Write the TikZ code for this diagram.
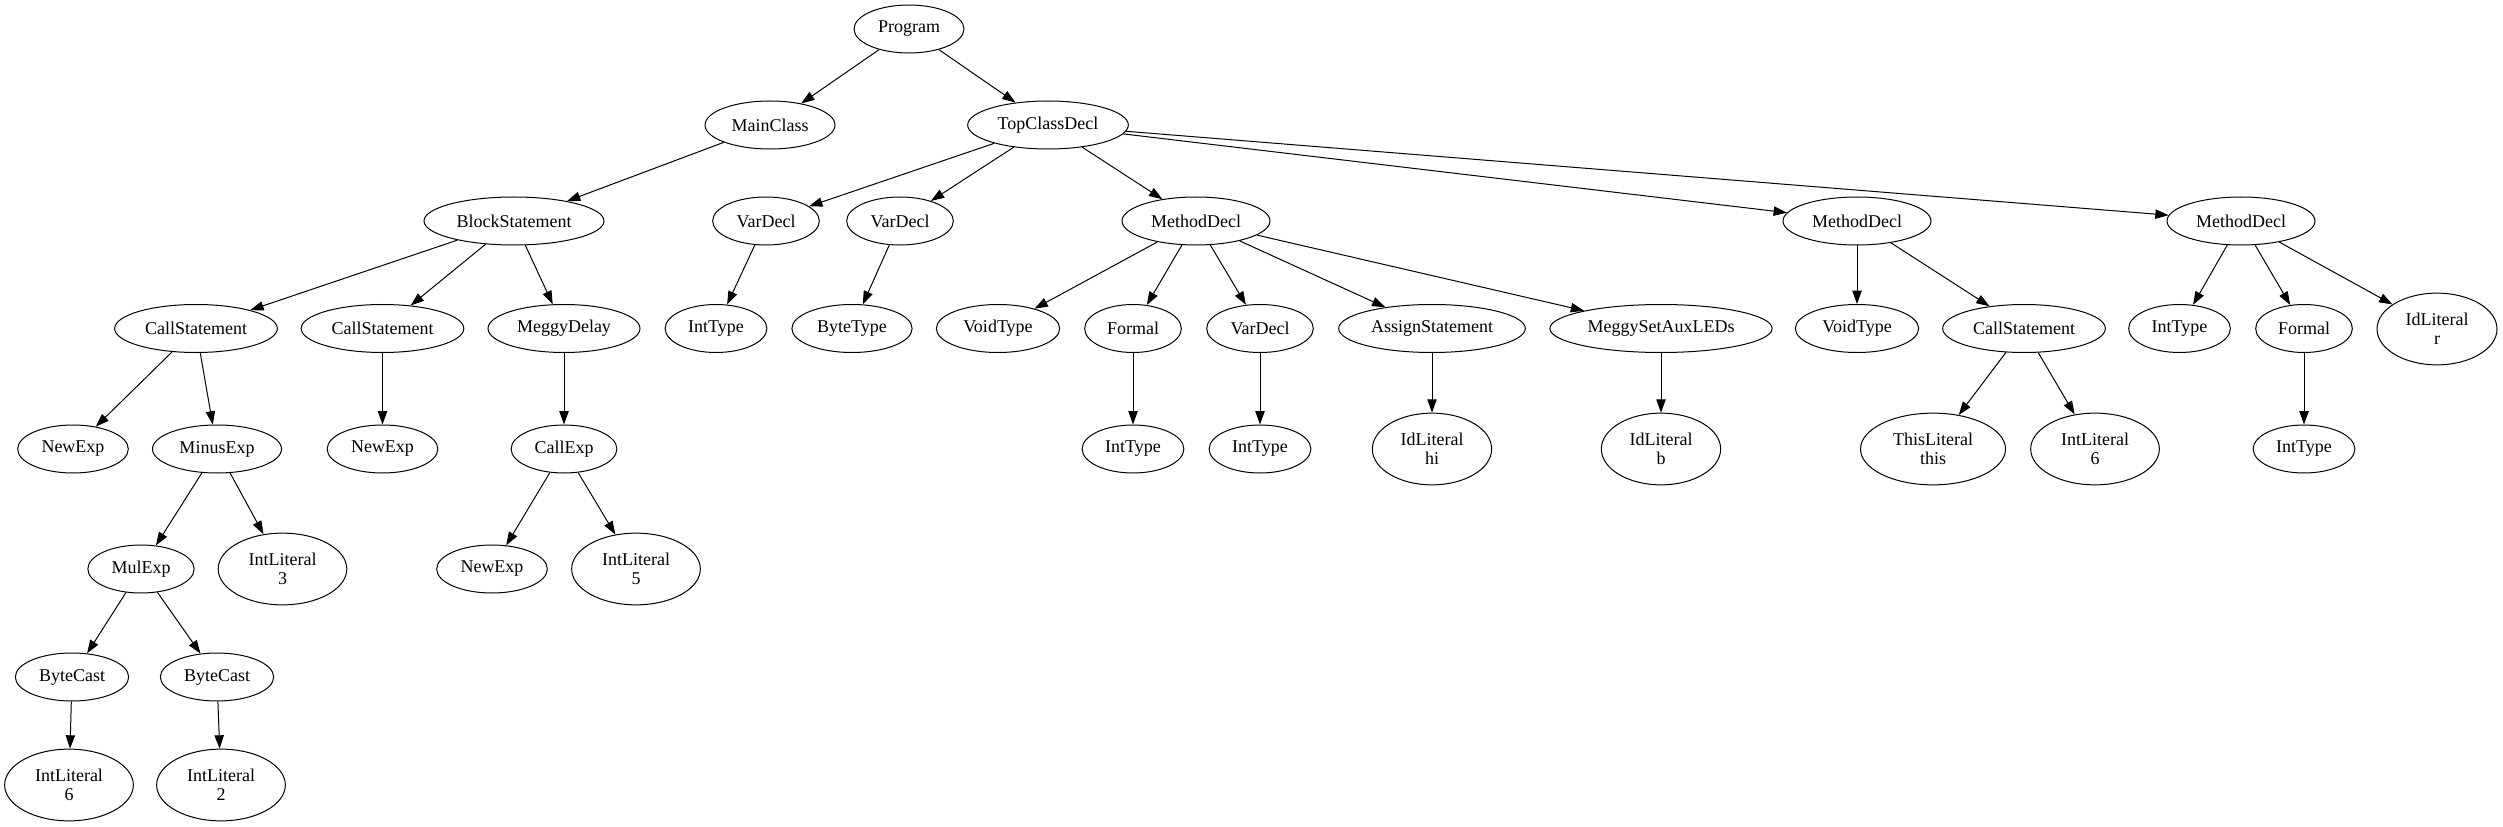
\documentclass[tikz,border=0pt]{standalone}
\usepackage{fontspec}
\setmainfont{Liberation Serif}
\usepackage{tikz}
\usetikzlibrary{arrows.meta, shapes.geometric}

\tikzset{
  nodo/.style={draw, ellipse, line width=0.75pt, inner sep=1pt, minimum height=36pt,
    align=center, font=\fontsize{13.5pt}{14.3pt}\selectfont},
  alto/.style={minimum height=53.8pt},
  arco/.style={line width=0.75pt, -{Triangle[length=10pt,width=7pt]}}
}

\begin{document}
\begin{tikzpicture}[x=0.75pt, y=-0.75pt]
    \useasboundingbox (0,0) rectangle (2503,827);

    % radice
    \node[nodo, minimum width=82.5pt] (prog) at (909,29) {Program};

    % livello 1
    \node[nodo, minimum width=97.5pt] (main) at (770,125) {MainClass};
    \node[nodo, minimum width=120.5pt] (topcls) at (1048,125) {TopClassDecl};

    % livello 2
    \node[nodo, minimum width=135pt] (block) at (514,221) {BlockStatement};
    \node[nodo, minimum width=80pt] (vd1) at (766,221) {VarDecl};
    \node[nodo, minimum width=80pt] (vd2) at (900,221) {VarDecl};
    \node[nodo, minimum width=111pt] (md1) at (1196,221) {MethodDecl};
    \node[nodo, minimum width=111pt] (md2) at (1857,221) {MethodDecl};
    \node[nodo, minimum width=111pt] (md3) at (2241,221) {MethodDecl};

    % livello 3
    \node[nodo, minimum width=122pt] (cs1) at (196,328.5) {CallStatement};
    \node[nodo, minimum width=122pt] (cs2) at (382.5,328.5) {CallStatement};
    \node[nodo, minimum width=114pt] (delay) at (564,328.5) {MeggyDelay};
    \node[nodo, minimum width=76.3pt] (it1) at (716,328.5) {IntType};
    \node[nodo, minimum width=90.2pt] (bt1) at (852,328.5) {ByteType};
    \node[nodo, minimum width=92.5pt] (vt1) at (998,328.5) {VoidType};
    \node[nodo, minimum width=72.5pt] (fm1) at (1133,328.5) {Formal};
    \node[nodo, minimum width=80pt] (vd3) at (1260,328.5) {VarDecl};
    \node[nodo, minimum width=140pt] (assign) at (1432,328.5) {AssignStatement};
    \node[nodo, minimum width=166.7pt] (aux) at (1661,328.5) {MeggySetAuxLEDs};
    \node[nodo, minimum width=92.5pt] (vt2) at (1857,328.5) {VoidType};
    \node[nodo, minimum width=122pt] (cs3) at (2024,328.5) {CallStatement};
    \node[nodo, minimum width=76.3pt] (it2) at (2179.5,328.5) {IntType};
    \node[nodo, minimum width=72.5pt] (fm2) at (2304,328.5) {Formal};
    \node[nodo, alto, minimum width=90pt] (idr) at (2437,329) {IdLiteral\\r};

    % livello 4
    \node[nodo, minimum width=83pt] (ne1) at (73,449) {NewExp};
    \node[nodo, minimum width=96.8pt] (minus) at (217,449) {MinusExp};
    \node[nodo, minimum width=83pt] (ne2) at (382.5,449) {NewExp};
    \node[nodo, minimum width=79.3pt] (callexp) at (564,449) {CallExp};
    \node[nodo, minimum width=76.3pt] (it3) at (1133,449) {IntType};
    \node[nodo, minimum width=76.3pt] (it4) at (1260,449) {IntType};
    \node[nodo, alto, minimum width=89.5pt] (idhi) at (1432,449) {IdLiteral\\hi};
    \node[nodo, alto, minimum width=89.5pt] (idb) at (1661,449) {IdLiteral\\b};
    \node[nodo, alto, minimum width=108.75pt] (thislit) at (1933,449) {ThisLiteral\\this};
    \node[nodo, alto, minimum width=96.5pt] (ilsei) at (2095,449) {IntLiteral\\6};
    \node[nodo, minimum width=76.3pt] (it5) at (2304,449) {IntType};

    % livello 5
    \node[nodo, minimum width=79.7pt] (mul) at (141,569) {MulExp};
    \node[nodo, alto, minimum width=96.5pt] (il3) at (282.5,569) {IntLiteral\\3};
    \node[nodo, minimum width=83pt] (ne3) at (492,569) {NewExp};
    \node[nodo, alto, minimum width=96.5pt] (il5) at (636,569) {IntLiteral\\5};

    % livello 6 e 7
    \node[nodo, minimum width=85pt] (bc1) at (72,677) {ByteCast};
    \node[nodo, minimum width=85pt] (bc2) at (217,677) {ByteCast};
    \node[nodo, alto, minimum width=96.5pt] (il6) at (69,785) {IntLiteral\\6};
    \node[nodo, alto, minimum width=96.5pt] (il2) at (221,785) {IntLiteral\\2};

    % archi
    \draw[arco] (prog) -- (main);
    \draw[arco] (prog) -- (topcls);
    \draw[arco] (main) -- (block);
    \draw[arco] (topcls) -- (vd1);
    \draw[arco] (topcls) -- (vd2);
    \draw[arco] (topcls) -- (md1);
    \draw[arco] (topcls) -- (md2);
    \draw[arco] (topcls) -- (md3);
    \draw[arco] (block) -- (cs1);
    \draw[arco] (block) -- (cs2);
    \draw[arco] (block) -- (delay);
    \draw[arco] (vd1) -- (it1);
    \draw[arco] (vd2) -- (bt1);
    \draw[arco] (md1) -- (vt1);
    \draw[arco] (md1) -- (fm1);
    \draw[arco] (md1) -- (vd3);
    \draw[arco] (md1) -- (assign);
    \draw[arco] (md1) -- (aux);
    \draw[arco] (md2) -- (vt2);
    \draw[arco] (md2) -- (cs3);
    \draw[arco] (md3) -- (it2);
    \draw[arco] (md3) -- (fm2);
    \draw[arco] (md3) -- (idr);
    \draw[arco] (cs1) -- (ne1);
    \draw[arco] (cs1) -- (minus);
    \draw[arco] (cs2) -- (ne2);
    \draw[arco] (delay) -- (callexp);
    \draw[arco] (fm1) -- (it3);
    \draw[arco] (vd3) -- (it4);
    \draw[arco] (assign) -- (idhi);
    \draw[arco] (aux) -- (idb);
    \draw[arco] (cs3) -- (thislit);
    \draw[arco] (cs3) -- (ilsei);
    \draw[arco] (fm2) -- (it5);
    \draw[arco] (minus) -- (mul);
    \draw[arco] (minus) -- (il3);
    \draw[arco] (callexp) -- (ne3);
    \draw[arco] (callexp) -- (il5);
    \draw[arco] (mul) -- (bc1);
    \draw[arco] (mul) -- (bc2);
    \draw[arco] (bc1) -- (il6);
    \draw[arco] (bc2) -- (il2);
\end{tikzpicture}
\end{document}
